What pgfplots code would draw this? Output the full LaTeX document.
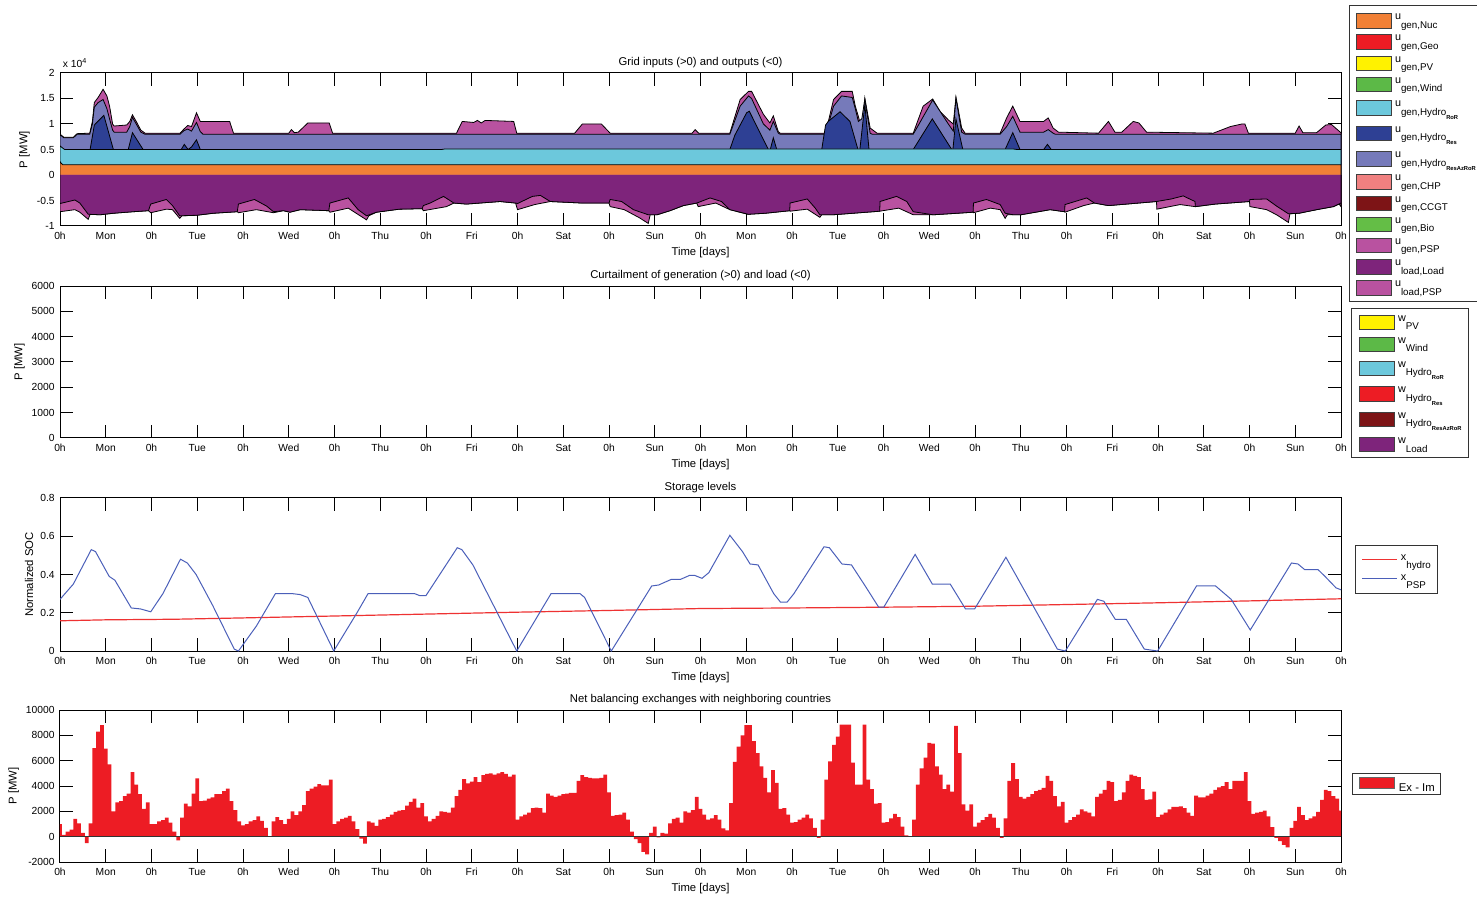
\documentclass[border=0pt]{standalone}
\usepackage{pgfplots}
\pgfplotsset{compat=1.18}
\usepackage{fontspec}
\setmainfont{Liberation Sans}

\definecolor{cNuc}{RGB}{241,128,54}
\definecolor{cGeo}{RGB}{237,28,36}
\definecolor{cPV}{RGB}{255,242,0}
\definecolor{cWind}{RGB}{92,185,71}
\definecolor{cRoR}{RGB}{108,200,220}
\definecolor{cRes}{RGB}{46,64,148}
\definecolor{cResAz}{RGB}{118,122,186}
\definecolor{cCHP}{RGB}{240,128,128}
\definecolor{cCCGT}{RGB}{125,20,22}
\definecolor{cBio}{RGB}{100,190,70}
\definecolor{cPSP}{RGB}{185,82,160}
\definecolor{cLoad}{RGB}{126,36,123}
\definecolor{cRed}{RGB}{237,28,36}
\definecolor{cHyd}{RGB}{238,50,50}
\definecolor{cPSPline}{RGB}{75,95,185}

\newcommand{\tf}{\fontsize{5.15}{6}\selectfont}
\newcommand{\lf}{\fontsize{5.65}{6.6}\selectfont}
\newcommand{\legf}{\fontsize{5.4}{6}\selectfont}
\newcommand{\lsub}[1]{\raisebox{-4.2pt}{\fontsize{4.9}{5}\selectfont #1}}
\newcommand{\llsub}[1]{\raisebox{-2pt}{\fontsize{2.9}{3}\selectfont\bfseries #1}}
\newcommand{\strA}{\rule[-5.3pt]{0pt}{10.6pt}}
\newcommand{\strB}{\rule[-6.0pt]{0pt}{12.5pt}}
\newcommand{\strC}{\rule[-5.5pt]{0pt}{11pt}}
\newcommand{\strD}{\rule[-4pt]{0pt}{9pt}}

\pgfplotsset{
  mystyle/.style={
    scale only axis, width=640.5pt, anchor=south west,
    xmin=0, xmax=336,
    xtick={0,12,...,336},
    xticklabels={0h,Mon,0h,Tue,0h,Wed,0h,Thu,0h,Fri,0h,Sat,0h,Sun,0h,Mon,0h,Tue,0h,Wed,0h,Thu,0h,Fri,0h,Sat,0h,Sun,0h},
    scaled ticks=false, clip mode=individual,
    tick align=inside, major tick length=6.4pt,
    tick style={black, line width=0.5pt},
    axis line style={black, line width=0.5pt},
    ticklabel style={font=\tf},
    xticklabel style={inner sep=0pt, yshift=-3pt},
    yticklabel style={inner sep=0pt, xshift=-2.5pt},
    label style={font=\lf},
    xlabel={Time [days]},
    title style={font=\lf, inner sep=0pt, yshift=-3.5pt},
    legend cell align=left,
  },
  arealeg/.style={
    legend image code/.code={\draw[##1, draw=black!75, line width=0.5pt] (0pt,-4.2pt) rectangle (17.5pt,3pt);},
    legend style={draw=black!80, line width=0.5pt, fill=white, inner xsep=3pt, inner ysep=1.8pt, row sep=0pt, column sep=1.75pt, font=\legf, nodes={inner sep=0pt, text depth=, text height=}},
  },
  lineleg/.style={
    legend style={draw=black!80, line width=0.5pt, fill=white, inner xsep=3.5pt, inner ysep=2.3pt, row sep=0pt, column sep=1.75pt, font=\legf, nodes={inner sep=0pt, text depth=, text height=}},
  },
}

\begin{document}
\begin{tikzpicture}

%% ---------------- Panel 1 ----------------
\begin{axis}[mystyle, arealeg, at={(30pt,-113pt)}, height=76.5pt,
  ymin=-1, ymax=2, ytick={-1,-0.5,0,0.5,1,1.5,2}, yticklabels={-1,-0.5,0,0.5,1,1.5,2},
  title={Grid inputs (>0) and outputs (<0)}, ylabel={P [MW]},
  legend style={at={(rel axis cs:1.00625,1.444)}, anchor=north west}]
% total positive (PSP generation on top)
\addplot[fill=cPSP, draw=black, line width=0.4pt, forget plot] coordinates {(0,0)(0,0.80)(1,0.74)(3.5,0.74)(4.5,0.81)(7.8,0.82)(8.5,1.05)(9,1.42)(10,1.52)(11.3,1.68)(12.3,1.55)(13,1.35)(13.8,1.0)(14.2,0.96)(17.5,0.98)(18.3,1.05)(19,1.18)(20,1.05)(21.2,0.88)(22.3,0.82)(31.5,0.82)(32.5,0.9)(33.5,0.97)(34.5,0.95)(35.8,1.22)(36.8,1.05)(44.5,1.05)(45.5,0.82)(60,0.82)(60.7,0.89)(61.5,0.83)(62.5,0.84)(65,1.02)(70.6,1.02)(71.5,0.82)(104,0.82)(105.5,1.05)(108.5,1.03)(109.5,1.07)(110.5,1.02)(111.5,1.07)(119,1.05)(119.8,0.82)(135,0.82)(137,1.0)(142,1.0)(144.3,0.82)(165.8,0.82)(166.6,0.89)(167.5,0.82)(175.7,0.82)(178.4,1.48)(180.6,1.64)(181.4,1.64)(184.5,1.19)(186.2,1.02)(187.1,1.16)(188.4,0.85)(188.9,0.82)(200.8,0.82)(202.9,1.48)(205,1.64)(207.8,1.64)(208.6,1.35)(209.4,1.15)(210.3,0.9)(211.1,1.51)(212.5,0.92)(214.3,0.82)(223.8,0.82)(226.4,1.35)(228.9,1.49)(230.8,1.25)(233,1.08)(234.3,1.0)(235,1.53)(236.5,0.92)(237.4,0.82)(246.6,0.82)(248.3,1.12)(249.9,1.35)(251.8,1.05)(258,1.05)(259.2,1.12)(260.5,0.92)(261.9,0.84)(272.4,0.82)(275,1.05)(276.7,0.84)(278.5,0.84)(281.5,1.05)(283,1.02)(285,0.84)(302.5,0.82)(307,0.95)(310,1.0)(310.8,1.0)(311.7,0.82)(324,0.82)(325,0.96)(326,0.83)(329.6,0.83)(332,0.98)(333.5,0.99)(335.8,0.84)(336,0.83)(336,0)};
% Hydro ResAzRoR top
\addplot[fill=cResAz, draw=black, line width=0.4pt, forget plot] coordinates {(0,0)(0,0.79)(1,0.73)(3.5,0.73)(4.5,0.80)(7.8,0.80)(8.5,1.0)(9,1.33)(10,1.42)(11.3,1.48)(12.3,1.3)(13,1.1)(13.8,0.88)(14.2,0.84)(17.5,0.84)(18.3,0.95)(19,1.13)(20,1.0)(21.2,0.84)(22.3,0.80)(31.5,0.80)(32.5,0.87)(33.5,0.90)(34.5,0.86)(35.8,1.03)(36.8,0.85)(37.5,0.80)(175.7,0.80)(178.4,1.35)(180.6,1.55)(181.4,1.5)(184.5,1.0)(186.2,0.88)(187.1,1.05)(188.4,0.82)(188.9,0.80)(200.8,0.80)(202.9,1.35)(205,1.55)(207.8,1.52)(208.6,1.3)(209.4,1.05)(210.3,1.1)(211.1,1.48)(212.5,0.82)(213,0.80)(223.8,0.80)(228.9,1.47)(233,1.0)(234.3,0.86)(235,1.5)(236.5,0.84)(237.4,0.80)(246.6,0.80)(248.3,0.95)(249.9,1.15)(251.8,0.84)(258,0.84)(259.2,0.89)(260.5,0.82)(261,0.80)(336,0.80)(336,0)};
% Hydro Res top
\addplot[fill=cRes, draw=black, line width=0.4pt, forget plot] coordinates {(0,0)(0,0.5)(7.9,0.5)(9,0.98)(11.5,1.17)(14,0.5)(17.9,0.5)(19,0.83)(21.8,0.5)(31.8,0.5)(32.6,0.6)(33.6,0.5)(34.5,0.55)(35.8,0.69)(36.8,0.5)(175.7,0.5)(177,0.78)(180.1,1.22)(180.8,1.25)(185.8,0.5)(186.3,0.5)(187.1,0.73)(188,0.5)(199.8,0.5)(200.8,0.98)(201.5,1.05)(204.6,1.24)(207.2,1.05)(209.3,0.5)(209.8,0.5)(211.1,1.38)(212.2,0.5)(223.8,0.5)(228.8,1.1)(233.9,0.5)(234.2,0.5)(235,1.1)(236.8,0.5)(247.9,0.5)(249.9,0.83)(251.8,0.5)(258,0.5)(259,0.6)(260,0.5)(336,0.5)(336,0)};
% Hydro RoR top
\addplot[fill=cRoR, draw=black, line width=0.4pt, forget plot] coordinates {(0,0)(0,0.57)(1.2,0.5)(100,0.5)(101,0.51)(250,0.51)(251,0.5)(336,0.5)(336,0)};
% Nuclear
\addplot[fill=cNuc, draw=black, line width=0.4pt, forget plot] coordinates {(0,0)(0,0.26)(0.7,0.2)(336,0.2)(336,0)};
% total negative (load + PSP load)
\addplot[fill=cPSP, draw=black, line width=0.4pt, forget plot] coordinates {(0,0)(0,-0.72)(3.9,-0.68)(5.2,-0.73)(7.4,-0.87)(7.9,-0.77)(10.5,-0.78)(14,-0.75)(19.2,-0.72)(23.2,-0.7)(23.8,-0.74)(27.9,-0.67)(29.5,-0.68)(31.4,-0.85)(32,-0.8)(35.8,-0.79)(40.2,-0.75)(46.5,-0.72)(46.8,-0.74)(51.5,-0.68)(56,-0.74)(58.6,-0.7)(60.3,-0.73)(63,-0.68)(70.5,-0.7)(70.8,-0.73)(75.6,-0.65)(80.4,-0.88)(81,-0.8)(83,-0.73)(89,-0.67)(95,-0.66)(95.3,-0.7)(101.4,-0.62)(103.3,-0.55)(106.6,-0.57)(115.4,-0.52)(119.5,-0.55)(120,-0.68)(124.5,-0.58)(128.6,-0.52)(137,-0.55)(144,-0.55)(144.3,-0.62)(148,-0.68)(152,-0.84)(154.3,-0.95)(154.8,-0.78)(156.6,-0.78)(160,-0.7)(163.5,-0.6)(167,-0.55)(167.4,-0.62)(172,-0.55)(175.7,-0.68)(180.5,-0.77)(185,-0.75)(191.4,-0.7)(191.5,-0.71)(196,-0.67)(199.3,-0.83)(199.8,-0.78)(202.7,-0.78)(208,-0.75)(215,-0.71)(220,-0.65)(223.8,-0.78)(229,-0.78)(239.5,-0.73)(239.6,-0.74)(244,-0.65)(246.6,-0.68)(247.9,-0.85)(248.5,-0.78)(250,-0.78)(252,-0.78)(259.7,-0.68)(263.5,-0.72)(263.6,-0.73)(268.5,-0.6)(271.3,-0.55)(275,-0.6)(287.6,-0.52)(287.7,-0.67)(293.8,-0.58)(297.7,-0.62)(297.8,-0.62)(303,-0.57)(312,-0.52)(312.1,-0.62)(316.5,-0.68)(319.1,-0.78)(322.2,-0.93)(322.6,-0.76)(325,-0.75)(329.6,-0.68)(334,-0.62)(335.5,-0.57)(336,-0.62)(336,0)};
% load
\addplot[fill=cLoad, draw=black, line width=0.4pt, forget plot] coordinates {(0,0)(0,-0.56)(3.9,-0.49)(5.2,-0.55)(6.5,-0.68)(7.4,-0.77)(10.5,-0.78)(14,-0.75)(19.2,-0.72)(23.2,-0.7)(23.8,-0.57)(27.9,-0.48)(29.5,-0.6)(31.4,-0.8)(35.8,-0.79)(40.2,-0.75)(46.5,-0.72)(46.8,-0.57)(51,-0.48)(54.2,-0.61)(56,-0.72)(58.6,-0.7)(60.3,-0.73)(63,-0.68)(70.5,-0.7)(70.8,-0.55)(75.6,-0.45)(78.2,-0.68)(80.4,-0.8)(83,-0.73)(89,-0.67)(95,-0.66)(95.3,-0.6)(97.1,-0.55)(100.6,-0.42)(103.3,-0.55)(106.6,-0.57)(115.4,-0.52)(119.5,-0.55)(120,-0.56)(123.9,-0.42)(126,-0.40)(128.6,-0.52)(137,-0.55)(144,-0.55)(144.3,-0.48)(147.3,-0.52)(150.4,-0.68)(154.3,-0.78)(156.6,-0.78)(160,-0.7)(163.5,-0.6)(167,-0.55)(167.4,-0.54)(170.5,-0.45)(173.5,-0.52)(175.7,-0.68)(180.5,-0.77)(185,-0.75)(191.4,-0.7)(191.5,-0.55)(196,-0.47)(198.1,-0.65)(199.3,-0.78)(202.7,-0.78)(208,-0.75)(215,-0.71)(215.1,-0.52)(219.4,-0.42)(222.1,-0.52)(223.8,-0.72)(229,-0.78)(239.5,-0.73)(239.6,-0.55)(243,-0.48)(246.6,-0.58)(247.9,-0.75)(250,-0.78)(252,-0.78)(259.7,-0.68)(263.5,-0.72)(263.6,-0.58)(269.3,-0.45)(271.3,-0.55)(275,-0.6)(287.6,-0.52)(291.5,-0.47)(294.6,-0.41)(297.7,-0.52)(297.8,-0.62)(303,-0.57)(312,-0.52)(312.1,-0.48)(316.5,-0.47)(319.1,-0.61)(322.2,-0.76)(325,-0.75)(329.6,-0.68)(334,-0.62)(336,-0.55)(336,0)};
\node[anchor=south west, font=\tf, inner sep=0pt] at (rel axis cs:0.002,1.03) {x 10\textsuperscript{4}};
\addlegendimage{fill=cNuc}\addlegendentry{\strA u\lsub{gen,Nuc}}
\addlegendimage{fill=cGeo}\addlegendentry{\strA u\lsub{gen,Geo}}
\addlegendimage{fill=cPV}\addlegendentry{\strA u\lsub{gen,PV}}
\addlegendimage{fill=cWind}\addlegendentry{\strA u\lsub{gen,Wind}}
\addlegendimage{fill=cRoR}\addlegendentry{\strB u\lsub{gen,Hydro\llsub{RoR}}}
\addlegendimage{fill=cRes}\addlegendentry{\strB u\lsub{gen,Hydro\llsub{Res}}}
\addlegendimage{fill=cResAz}\addlegendentry{\strB u\lsub{gen,Hydro\llsub{ResAzRoR}}}
\addlegendimage{fill=cCHP}\addlegendentry{\strA u\lsub{gen,CHP}}
\addlegendimage{fill=cCCGT}\addlegendentry{\strA u\lsub{gen,CCGT}}
\addlegendimage{fill=cBio}\addlegendentry{\strA u\lsub{gen,Bio}}
\addlegendimage{fill=cPSP}\addlegendentry{\strA u\lsub{gen,PSP}}
\addlegendimage{fill=cLoad}\addlegendentry{\strA u\lsub{load,Load}}
\addlegendimage{fill=cPSP}\addlegendentry{\strA u\lsub{load,PSP}}
\end{axis}

%% ---------------- Panel 2 ----------------
\begin{axis}[mystyle, arealeg, at={(30pt,-219pt)}, height=76pt,
  ymin=0, ymax=6000, ytick={0,1000,...,6000}, yticklabels={0,1000,2000,3000,4000,5000,6000},
  title={Curtailment of generation (>0) and load (<0)}, ylabel={P [MW]},
  legend style={at={(rel axis cs:1.0078,0.8553)}, anchor=north west, inner ysep=1pt, inner xsep=3.5pt}]
\addlegendimage{fill=cPV}\addlegendentry{\strC w\lsub{PV}}
\addlegendimage{fill=cWind}\addlegendentry{\strC w\lsub{Wind}}
\addlegendimage{fill=cRoR}\addlegendentry{\strB w\lsub{Hydro\llsub{RoR}}}
\addlegendimage{fill=cRed}\addlegendentry{\strB w\lsub{Hydro\llsub{Res}}}
\addlegendimage{fill=cCCGT}\addlegendentry{\strB w\lsub{Hydro\llsub{ResAzRoR}}}
\addlegendimage{fill=cLoad}\addlegendentry{\strB w\lsub{Load}}
\end{axis}

%% ---------------- Panel 3 ----------------
\begin{axis}[mystyle, lineleg, at={(30pt,-325.5pt)}, height=76.5pt,
  ymin=0, ymax=0.8, ytick={0,0.2,0.4,0.6,0.8}, yticklabels={0,0.2,0.4,0.6,0.8},
  title={Storage levels}, ylabel={Normalized SOC},
  legend style={at={(rel axis cs:1.0109,0.6928)}, anchor=north west}]
\addplot[draw=cHyd, line width=0.6pt, forget plot] coordinates {(0,0.158)(12,0.163)(24,0.165)(30,0.166)(48,0.173)(72,0.183)(96,0.193)(120,0.203)(144,0.212)(168,0.222)(192,0.225)(216,0.229)(240,0.234)(264,0.243)(288,0.252)(312,0.262)(336,0.273)};
\addplot[draw=cPSPline, line width=0.5pt, forget plot] coordinates {(0,0.27)(3.5,0.35)(8.2,0.53)(9.3,0.52)(12.9,0.39)(14.4,0.37)(18.7,0.225)(21.1,0.22)(23.8,0.205)(27,0.3)(31.6,0.48)(33.4,0.46)(35.7,0.40)(40,0.24)(45.7,0.01)(46.8,0.0)(51.5,0.13)(56.5,0.30)(60.9,0.30)(63,0.295)(65,0.28)(71.8,0.0)(77.9,0.2)(80.8,0.30)(93,0.30)(94.3,0.29)(96,0.29)(104.2,0.54)(105.4,0.53)(108.3,0.45)(119.8,0.0)(128.8,0.30)(136.4,0.30)(137.6,0.28)(144.6,0.0)(155.2,0.34)(157,0.345)(160.4,0.375)(162.8,0.375)(165.1,0.395)(166.5,0.395)(168.4,0.38)(170.2,0.41)(175.7,0.605)(179,0.52)(181,0.455)(183.1,0.45)(187.2,0.30)(189,0.255)(190.7,0.255)(192.5,0.3)(200.4,0.545)(201.8,0.54)(205.1,0.455)(207.6,0.45)(211.2,0.34)(214.7,0.23)(216.1,0.23)(224.3,0.505)(228.8,0.35)(233.5,0.35)(237.5,0.22)(239.9,0.22)(248.1,0.49)(261.6,0.01)(263.7,0.0)(272.1,0.27)(273.8,0.26)(276.8,0.165)(279.7,0.165)(284.4,0.01)(287.9,0.0)(298.1,0.34)(303.1,0.34)(307.2,0.27)(312.2,0.11)(323,0.46)(324.7,0.455)(326.5,0.425)(330,0.425)(331.8,0.39)(334.7,0.33)(336,0.32)};
\addlegendimage{legend image code/.code={\fill[cHyd, draw=none] (0pt,0.15pt) rectangle (17.5pt,0.85pt);}}\addlegendentry{\strD x\lsub{hydro}}
\addlegendimage{legend image code/.code={\fill[cPSPline, draw=none] (0pt,0.15pt) rectangle (17.5pt,0.85pt);}}\addlegendentry{\strD x\lsub{PSP}}
\end{axis}

%% ---------------- Panel 4 ----------------
\begin{axis}[mystyle, at={(30pt,-431pt)}, height=76pt,
  ymin=-2000, ymax=10000, ytick={-2000,0,...,10000}, yticklabels={-2000,0,2000,4000,6000,8000,10000},
  title={Net balancing exchanges with neighboring countries}, ylabel={P [MW]},
  legend image code/.code={\draw[#1, draw=black!60, line width=0.4pt] (0pt,-0.6pt) rectangle (17.8pt,5.2pt);},
  legend style={at={(rel axis cs:1.0086,0.5855)}, anchor=north west, draw=black!80, line width=0.5pt, fill=white, inner xsep=3pt, inner ysep=1.6pt, column sep=2pt, font=\lf, nodes={inner sep=0pt, text depth=, text height=}}]
\addplot[const plot mark mid, fill=cRed, draw=none, forget plot] coordinates {(0,0)(0,1000)(1,150)(2,400)(3,550)(4,1400)(5,1050)(6,300)(7,-500)(8,1050)(9,7000)(10,8300)(11,8800)(12,6950)(13,5700)(14,2000)(15,2700)(16,2800)(17,3200)(18,3400)(19,5100)(20,4100)(21,3350)(22,2200)(23,2700)(24,1000)(25,1000)(26,1200)(27,1300)(28,1500)(29,1100)(30,400)(31,-300)(32,1500)(33,2600)(34,2400)(35,3400)(36,4600)(37,2800)(38,2850)(39,3000)(40,3100)(41,3350)(42,3350)(43,3600)(44,3800)(45,2800)(46,2100)(47,1200)(48,900)(49,1000)(50,1200)(51,1300)(52,1600)(53,1250)(54,700)(55,50)(56,1200)(57,1550)(58,1300)(59,1000)(60,1400)(61,2000)(62,1700)(63,2000)(64,2500)(65,3600)(66,3800)(67,3950)(68,4150)(69,4050)(70,4050)(71,4500)(72,1000)(73,1200)(74,1400)(75,1500)(76,1650)(77,1200)(78,600)(79,-150)(80,-550)(81,1200)(82,1100)(83,850)(84,1350)(85,1400)(86,1550)(87,1750)(88,1950)(89,2050)(90,2100)(91,2450)(92,2750)(93,3000)(94,2300)(95,2650)(96,1600)(97,1200)(98,1400)(99,1650)(100,2000)(101,1950)(102,1900)(103,2300)(104,3200)(105,3700)(106,4550)(107,4200)(108,4350)(109,4700)(110,4300)(111,4850)(112,4950)(113,5000)(114,4900)(115,5000)(116,5100)(117,4950)(118,4750)(119,4900)(120,1350)(121,1600)(122,1750)(123,1900)(124,2250)(125,2300)(126,2250)(127,1900)(128,3400)(129,3250)(130,3150)(131,3250)(132,3350)(133,3400)(134,3450)(135,3450)(136,4400)(137,4850)(138,4700)(139,4650)(140,4600)(141,4600)(142,4650)(143,4900)(144,3500)(145,1650)(146,1700)(147,1750)(148,1900)(149,1350)(150,400)(151,-200)(152,-500)(153,-1200)(154,-1400)(155,300)(156,800)(157,-50)(158,300)(159,250)(160,1050)(161,1400)(162,1500)(163,1100)(164,2000)(165,1900)(166,2100)(167,3150)(168,2200)(169,1750)(170,1350)(171,1450)(172,1700)(173,1350)(174,650)(175,500)(176,2650)(177,5900)(178,7100)(179,8000)(180,8800)(181,8800)(182,7550)(183,6600)(184,5550)(185,4650)(186,3500)(187,5250)(188,4250)(189,2200)(190,2250)(191,1750)(192,1100)(193,1150)(194,1350)(195,1500)(196,1750)(197,1450)(198,700)(199,-100)(200,1350)(201,4500)(202,5950)(203,7250)(204,7900)(205,8850)(206,8850)(207,8850)(208,5850)(209,4100)(210,4100)(211,8850)(212,4500)(213,3750)(214,2600)(215,2650)(216,1100)(217,1150)(218,1450)(219,1800)(220,1550)(221,800)(222,100)(223,0)(224,1350)(225,4100)(226,5400)(227,6250)(228,7400)(229,7350)(230,5550)(231,4900)(232,3750)(233,4100)(234,3550)(235,8750)(236,6600)(237,2550)(238,2050)(239,2550)(240,800)(241,1100)(242,1300)(243,1550)(244,1800)(245,1500)(246,700)(247,-100)(248,1450)(249,4400)(250,5800)(251,4550)(252,3150)(253,3000)(254,3150)(255,3350)(256,3600)(257,3700)(258,3850)(259,4800)(260,4400)(261,3200)(262,2400)(263,2750)(264,1100)(265,1300)(266,1550)(267,1750)(268,2150)(269,2000)(270,1900)(271,1600)(272,3150)(273,3400)(274,3700)(275,4400)(276,4300)(277,2800)(278,2900)(279,3500)(280,4400)(281,4900)(282,4800)(283,4700)(284,3750)(285,2900)(286,2950)(287,3550)(288,1550)(289,1750)(290,1900)(291,2150)(292,2350)(293,2350)(294,2400)(295,2250)(296,1900)(297,1650)(298,3250)(299,3100)(300,3100)(301,3250)(302,3400)(303,3700)(304,3900)(305,4000)(306,4300)(307,3750)(308,4400)(309,4400)(310,4400)(311,5100)(312,2800)(313,1800)(314,1900)(315,1950)(316,2050)(317,1600)(318,750)(319,-100)(320,-350)(321,-650)(322,-850)(323,700)(324,1250)(325,2350)(326,1700)(327,1300)(328,1450)(329,1600)(330,1950)(331,2900)(332,3700)(333,3600)(334,3200)(335,3000)(336,2050)(336,0)};
\addplot[black!80, line width=0.5pt, forget plot] coordinates {(0,0)(336,0)};
\addlegendimage{fill=cRed}\addlegendentry{Ex - Im}
\end{axis}

\pgfresetboundingbox
\useasboundingbox (0,0) rectangle (738.5pt,-448.5pt);
\end{tikzpicture}
\end{document}
